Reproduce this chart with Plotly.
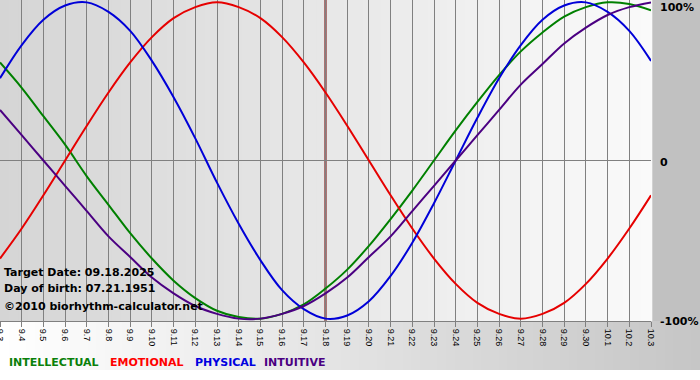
import plotly.graph_objects as go

# ---- data ----
DAY_LABELS = ["9.3", "9.4", "9.5", "9.6", "9.7", "9.8", "9.9", "9.10", "9.11", "9.12",
              "9.13", "9.14", "9.15", "9.16", "9.17", "9.18", "9.19", "9.20", "9.21", "9.22",
              "9.23", "9.24", "9.25", "9.26", "9.27", "9.28", "9.29", "9.30", "10.1", "10.2", "10.3"]

INTELLECTUAL = [0.62, 0.46, 0.28, 0.10, -0.10, -0.28, -0.46, -0.62, -0.76, -0.87,
                -0.95, -0.99, -1.00, -0.97, -0.91, -0.81, -0.69, -0.54, -0.37, -0.19,
                0.00, 0.19, 0.37, 0.54, 0.69, 0.81, 0.91, 0.97, 1.00, 0.99, 0.95]
EMOTIONAL = [-0.62, -0.43, -0.22, 0.00, 0.22, 0.43, 0.62, 0.78, 0.90, 0.97,
             1.00, 0.97, 0.90, 0.78, 0.62, 0.43, 0.22, 0.00, -0.22, -0.43,
             -0.62, -0.78, -0.90, -0.97, -1.00, -0.97, -0.90, -0.78, -0.62, -0.43, -0.22]
PHYSICAL = [0.52, 0.73, 0.89, 0.98, 1.00, 0.94, 0.82, 0.63, 0.40, 0.14,
            -0.14, -0.40, -0.63, -0.82, -0.94, -1.00, -0.98, -0.89, -0.73, -0.52,
            -0.27, 0.00, 0.27, 0.52, 0.73, 0.89, 0.98, 1.00, 0.94, 0.82, 0.63]
INTUITIVE = [0.32, 0.16, 0.00, -0.16, -0.32, -0.48, -0.61, -0.74, -0.84, -0.92,
             -0.97, -1.00, -1.00, -0.97, -0.92, -0.84, -0.74, -0.61, -0.48, -0.32,
             -0.16, 0.00, 0.16, 0.32, 0.48, 0.61, 0.74, 0.84, 0.92, 0.97, 1.00]

SERIES_NAMES = ["INTELLECTUAL", "EMOTIONAL", "PHYSICAL", "INTUITIVE"]
Y_TICK_LABELS = ["100%", "0", "-100%"]
Y_TICK_VALUES = [1, 0, -1]
TARGET_LABEL = "9.18"
INFO_LINES = ["Target Date: 09.18.2025", "Day of birth: 07.21.1951", "\u00a92010 biorhythm-calculator.net"]

# ---- styles ----
COLORS = {"INTELLECTUAL": "#008000", "EMOTIONAL": "#e60000", "PHYSICAL": "#0000d8", "INTUITIVE": "#4b0082"}
LEGEND_COLORS = {"INTELLECTUAL": "#0a800a", "EMOTIONAL": "#ff0000", "PHYSICAL": "#0000e0", "INTUITIVE": "#4b0082"}
W, H = 700, 380
L, R, T, B = 0, 49, 0, 59
PW, PH = W - L - R, H - T - B

x = list(range(len(DAY_LABELS)))
values = {"INTELLECTUAL": INTELLECTUAL, "EMOTIONAL": EMOTIONAL, "PHYSICAL": PHYSICAL, "INTUITIVE": INTUITIVE}

fig = go.Figure()
for name in SERIES_NAMES:
    fig.add_trace(go.Scatter(x=x, y=values[name], mode="lines", name=name,
                             line=dict(color=COLORS[name], width=2, shape="spline", smoothing=1.0),
                             hoverinfo="skip"))


def py(px):
    """pixel row -> paper y"""
    return (PH - px) / PH


def pxx(px):
    return px / PW


shapes = []
# plot area horizontal gradient
N = 70
for i in range(N):
    g = int(round(213 + (250 - 213) * i / (N - 1)))
    shapes.append(dict(type="rect", xref="paper", yref="paper", x0=i / N, x1=(i + 1) / N + 0.002,
                       y0=0, y1=1, fillcolor=f"rgb({g},{g},{g})", line=dict(width=0), layer="below"))
# bottom band gradient
N2 = 80
xmax = pxx(W)
for i in range(N2):
    g = int(round(255 + (198 - 255) * i / (N2 - 1)))
    shapes.append(dict(type="rect", xref="paper", yref="paper", x0=xmax * i / N2, x1=xmax * (i + 1) / N2 + 0.002,
                       y0=py(370), y1=0, fillcolor=f"rgb({g},{g},{g})", line=dict(width=0), layer="below"))
# white bottom strip
shapes.append(dict(type="rect", xref="paper", yref="paper", x0=0, x1=xmax, y0=py(381), y1=py(370),
                   fillcolor="white", line=dict(width=0), layer="below"))
# target date line
shapes.append(dict(type="line", xref="x", yref="paper", x0=DAY_LABELS.index(TARGET_LABEL),
                   x1=DAY_LABELS.index(TARGET_LABEL), y0=0, y1=1,
                   line=dict(color="#700000", width=2), layer="between"))

annotations = []
# right-hand labels
label_rows = {1: 7.5, 0: 162, -1: 322}
for lab, v in zip(Y_TICK_LABELS, Y_TICK_VALUES):
    annotations.append(dict(text=lab, xref="paper", yref="paper", x=pxx(658), y=py(label_rows[v]),
                            xanchor="left", yanchor="middle", showarrow=False,
                            font=dict(family="DejaVu Sans", size=11, color="#000000", weight="bold")))
# info text
for line_txt, row in zip(INFO_LINES, [272.5, 288.5, 306.5]):
    annotations.append(dict(text=line_txt, xref="paper", yref="paper", x=pxx(2), y=py(row),
                            xanchor="left", yanchor="middle", showarrow=False,
                            font=dict(family="DejaVu Sans", size=11, color="#000000", weight="bold")))
# legend-style labels at bottom
for name, xs in zip(SERIES_NAMES, [7, 108, 193, 262]):
    annotations.append(dict(text=name, xref="paper", yref="paper", x=pxx(xs), y=py(362.5),
                            xanchor="left", yanchor="middle", showarrow=False,
                            font=dict(family="DejaVu Sans", size=11, color=LEGEND_COLORS[name], weight="bold")))

fig.update_layout(
    width=W, height=H,
    autosize=False,
    margin=dict(l=L, r=R, t=T, b=B, pad=0, autoexpand=False),
    paper_bgcolor="#c1c1c1",
    plot_bgcolor="#e8e8e8",
    showlegend=False,
    shapes=shapes,
    annotations=annotations,
    xaxis=dict(range=[0, len(DAY_LABELS) - 1], tickvals=x, ticktext=DAY_LABELS, tickangle=90,
               automargin=False, ticklabeloverflow="allow",
               showgrid=True, gridcolor="#808080", gridwidth=1,
               ticks="outside", ticklen=5, tickcolor="#808080", tickwidth=1,
               showline=True, linecolor="#808080", linewidth=1, zeroline=False,
               tickfont=dict(family="Liberation Sans", size=9, color="#000000"), fixedrange=True),
    yaxis=dict(range=[-1.015, 1.015], showticklabels=False, showgrid=False, automargin=False,
               zeroline=True, zerolinecolor="#808080", zerolinewidth=1, fixedrange=True),
)

fig.write_html("out.html", config={"displayModeBar": False},
               post_script="document.body.style.margin='0';document.body.style.overflow='hidden';")
